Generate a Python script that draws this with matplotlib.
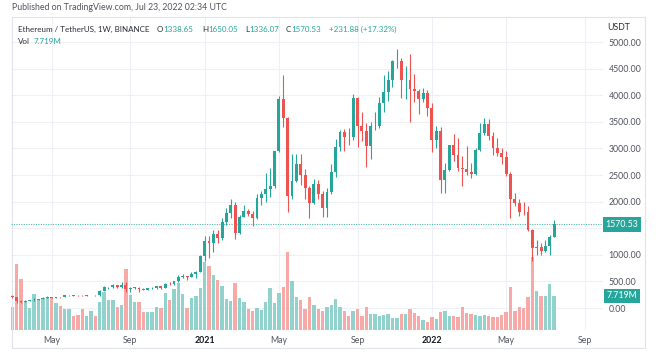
import matplotlib
matplotlib.use("Agg")
import matplotlib.pyplot as plt
import matplotlib.transforms as mtrans
from matplotlib.patches import Rectangle
import numpy as np
import pandas as pd

# ---------------- data (weekly ETH/USDT, Binance) ----------------
first_week = "2020-03-02"
opens = [218, 200, 124, 122, 131, 143, 158, 170, 196, 211, 187, 206, 201, 244, 246, 233, 228, 225, 242, 243,
         236, 318, 393, 395, 428, 395, 428, 352, 381, 384, 352, 345, 375, 379, 406, 383, 452, 448, 508, 575,
         596, 586, 640, 681,
         975, 1262, 1230, 1392, 1314, 1614, 1790, 1935, 1416, 1720, 1830, 1775, 1690, 2075, 2150, 2240, 2300,
         2950, 3920, 3580, 2100, 2380, 2700, 2500, 2250, 1970, 2330, 2140, 1875, 2190, 2560, 3020, 3310, 3220,
         3215, 3940, 3420, 3330, 3045, 3420, 3430, 3845, 4065, 4290, 4640, 4650, 4280, 4290, 4120, 4070, 3920,
         4050,
         3765, 3150, 3330, 2405, 2600, 3055, 2880, 2630, 2620, 2560, 2520, 2975, 3290, 3450, 3230, 3000, 2920,
         2830, 2520, 2050, 1970, 1810, 1800, 1460, 1125, 1140, 1075, 1165, 1338.65]
highs = [251, 208, 146, 146, 149, 190, 175, 199, 228, 215, 211, 216, 250, 253, 250, 240, 248, 245, 250, 245,
         330, 415, 400, 445, 440, 488, 488, 390, 395, 386, 372, 382, 395, 420, 412, 470, 480, 515, 622, 635,
         600, 670, 690, 1000,
         1350, 1350, 1475, 1475, 1700, 1875, 2040, 1985, 1740, 1940, 1870, 1830, 2150, 2200, 2545, 2640, 2950,
         3990, 4372, 3590, 2900, 2900, 2890, 2620, 2300, 2420, 2400, 2200, 2250, 2700, 3180, 3340, 3360, 3380,
         4030, 3975, 3690, 3470, 3500, 3680, 3970, 4375, 4460, 4665, 4870, 4700, 4550, 4780, 4400, 4120, 4130,
         4100,
         3860, 3415, 3410, 2720, 3060, 3280, 3200, 2850, 3050, 2720, 3000, 3480, 3580, 3550, 3310, 3190, 3000,
         2960, 2560, 2160, 2050, 2000, 1920, 1480, 1280, 1220, 1280, 1380, 1650.05]
lows = [195, 90, 101, 116, 125, 141, 146, 165, 190, 182, 180, 196, 198, 225, 220, 218, 220, 222, 236, 227,
        234, 316, 350, 370, 375, 372, 310, 310, 350, 310, 335, 340, 360, 360, 367, 375, 435, 440, 480, 560,
        535, 575, 560, 680,
        890, 935, 1050, 1220, 1280, 1560, 1700, 1290, 1400, 1715, 1730, 1550, 1670, 1930, 2000, 2080, 2250,
        2940, 3400, 1800, 2050, 2360, 2320, 2050, 1700, 1950, 2040, 1720, 1720, 2150, 2460, 2960, 2950, 3070,
        3150, 3030, 3130, 2660, 2800, 3340, 3380, 3690, 3890, 4150, 4510, 3950, 3930, 3500, 3880, 3640, 3880,
        3600,
        2930, 3000, 2160, 2160, 2580, 2770, 2580, 2300, 2500, 2450, 2500, 2960, 3250, 3150, 2880, 2850, 2700,
        2480, 1700, 1910, 1730, 1740, 1440, 880, 1000, 1000, 1050, 1000, 1336.07]
closes = [200, 124, 122, 131, 143, 158, 170, 196, 211, 187, 206, 201, 244, 246, 233, 228, 225, 242, 243, 236,
          318, 393, 395, 428, 395, 428, 352, 381, 384, 352, 345, 375, 379, 406, 383, 452, 448, 508, 575, 596,
          586, 640, 681, 975,
          1262, 1230, 1392, 1314, 1614, 1790, 1935, 1416, 1720, 1830, 1775, 1690, 2075, 2150, 2240, 2300, 2950,
          3920, 3580, 2100, 2380, 2700, 2500, 2250, 1970, 2330, 2140, 1875, 2190, 2560, 3020, 3310, 3220, 3215,
          3940, 3420, 3330, 3045, 3420, 3430, 3845, 4065, 4290, 4640, 4650, 4280, 4290, 4120, 4070, 3920, 4050,
          3765,
          3150, 3330, 2405, 2600, 3055, 2880, 2630, 2620, 2560, 2520, 2975, 3290, 3450, 3230, 3000, 2920, 2830,
          2520, 2050, 1970, 1810, 1800, 1460, 1125, 1140, 1075, 1165, 1338.65, 1570.53]
volumes_m = [5.22, 14.98, 11.58, 6.58, 4.99, 8.17, 7.04, 7.26, 7.26, 7.26, 6.13, 5.45, 4.77, 4.77, 3.18, 3.41,
             4.77, 3.18, 4.31, 3.18, 6.36, 8.63, 6.81, 6.81, 5.22, 5.68, 13.85, 7.95, 6.36, 6.36, 4.09, 4.09,
             4.09, 5.22, 4.99, 8.40, 6.81, 9.31, 10.67, 8.17, 4.99, 7.26, 7.72, 9.53,
             15.44, 14.53, 12.49, 11.35, 9.99, 7.04, 6.58, 10.67, 7.26, 6.36, 4.77, 4.31, 4.99, 4.54, 6.36, 9.53,
             6.13, 8.40, 9.76, 17.71, 11.12, 7.49, 6.81, 4.77, 7.49, 5.68, 4.77, 4.31, 5.22, 5.68, 7.04, 5.22,
             4.31, 3.18, 4.31, 4.77, 3.18, 5.22, 3.63, 3.63, 3.18, 3.41, 3.63, 2.72, 2.72, 3.63, 3.63, 4.77,
             3.86, 3.18, 2.27, 1.82,
             2.95, 2.50, 4.09, 4.31, 3.18, 3.18, 2.95, 5.22, 3.86, 3.63, 3.41, 3.18, 3.41, 3.18, 2.95, 2.95,
             3.41, 4.09, 9.76, 4.31, 5.22, 4.99, 7.49, 16.57, 8.85, 7.72, 7.72, 10.44, 7.719]
price_ticks = [0, 500, 1000, 1500, 2000, 2500, 3000, 3500, 4000, 4500, 5000]
price_tick_labels = ["0.00", "500.00", "1000.00", "", "2000.00", "2500.00", "3000.00", "3500.00",
                     "4000.00", "4500.00", "5000.00"]
time_tick_dates = ["2020-05-04", "2020-09-07", "2021-01-04", "2021-05-03", "2021-09-06",
                   "2022-01-03", "2022-05-02", "2022-09-05"]
time_tick_labels = ["May", "Sep", "2021", "May", "Sep", "2022", "May", "Sep"]
symbol_text = "Ethereum / TetherUS, 1W, BINANCE"
published_text = "Published on TradingView.com, Jul 23, 2022 02:34 UTC"
currency = "USDT"

# ---------------- styling ----------------
UP, DOWN = "#26a69a", "#ef5350"
VUP, VDOWN = "#92d2cc", "#f7a9a7"
GRID = "#eef0f5"
TXT = "#50535e"
DARK = "#2a2e39"
FONT = "Lato"
plt.rcParams["font.family"] = [FONT, "DejaVu Sans"]

W, H = 660, 360
def frect(x0, y0, x1, y1):
    return [x0 / W, 1 - y1 / H, (x1 - x0) / W, (y1 - y0) / H]

dates = pd.date_range(first_week, periods=len(opens), freq="7D")
o = np.array(opens); h = np.array(highs); l = np.array(lows); c = np.array(closes)
v = np.array(volumes_m)
up = c >= o

fig = plt.figure(figsize=(6.6, 3.6), dpi=100)
ax = fig.add_axes(frect(11, 17, 603, 330))
axv = ax.twinx()
ax.set_zorder(axv.get_zorder() + 1)
ax.patch.set_visible(False)

x0 = pd.Timestamp(first_week) - pd.Timedelta(days=2.1)
x1 = pd.Timestamp(first_week) + pd.Timedelta(days=946.2)
ax.set_xlim(x0, x1)
ax.set_ylim(-413, 5470)
axv.set_ylim(0, 71.06)

# grid (on the lower axes so it stays behind volume)
blend_v = mtrans.blended_transform_factory(axv.transAxes, ax.transData)
for p in price_ticks:
    axv.plot([0, 1], [p, p], transform=blend_v, color=GRID, lw=0.8, zorder=0)
for d in time_tick_dates:
    axv.axvline(pd.Timestamp(d), color=GRID, lw=0.8, zorder=0)

# volume
axv.bar(dates, v, width=5.4, color=np.where(up, VUP, VDOWN), zorder=1, linewidth=0)

# candles
cols = np.where(up, UP, DOWN)
ax.vlines(dates, l, h, colors=cols, lw=0.8, zorder=2)
body_bottom = np.minimum(o, c)
body_h = np.maximum(np.abs(c - o), 6)
ax.bar(dates, body_h, bottom=body_bottom, width=4.6, color=cols, linewidth=0, zorder=3)

# last price line
ax.axhline(c[-1], color=UP, lw=0.8, ls=(0, (1, 1.2)), alpha=0.8, zorder=1)

# axes styling
for a in (ax, axv):
    for s in a.spines.values():
        s.set_visible(False)
axv.set_yticks([])
ax.yaxis.tick_right()
ax.set_yticks(price_ticks)
ax.set_yticklabels(price_tick_labels)
ax.tick_params(axis="y", length=0, pad=4, labelsize=6.3, labelcolor=TXT)
ax.set_xticks([pd.Timestamp(d) for d in time_tick_dates])
ax.set_xticklabels(time_tick_labels)
ax.tick_params(axis="x", length=0, pad=4, labelsize=6.3, labelcolor=TXT)
for t in ax.get_xticklabels():
    if t.get_text().isdigit():
        t.set_fontweight("bold")
        t.set_color("#131722")

# price / volume labels on the scale
blend_p = mtrans.blended_transform_factory(ax.transAxes, ax.transData)
ax.text(1.0313, c[-1], f"{c[-1]:.2f}", transform=blend_p, ha="center", va="center",
        color="white", fontsize=6.3, zorder=10,
        bbox=dict(boxstyle="square,pad=0.3", fc=UP, ec="none"))
blend_vl = mtrans.blended_transform_factory(axv.transAxes, axv.transData)
axv.text(1.0313, v[-1], f"{v[-1]:.3f}M", transform=blend_vl, ha="center", va="center",
         color="white", fontsize=6.3, zorder=10,
         bbox=dict(boxstyle="square,pad=0.3", fc=UP, ec="none"))

# frame
fig.add_artist(Rectangle((12 / W, 1 - 348 / H), (645 - 12) / W, (348 - 17) / H,
                         transform=fig.transFigure, fill=False, ec="#e0e3eb", lw=0.8))

# overlay texts in pixel coords
ov = fig.add_axes([0, 0, 1, 1])
ov.set_xlim(0, W); ov.set_ylim(H, 0); ov.axis("off")
ov.set_zorder(20)
ov.text(12, 8, published_text, fontsize=6.3, color=TXT, va="center", ha="left")
ov.text(607, 27, currency, fontsize=6.3, color=DARK, va="center", ha="left")

def chain(x, y, parts, fs=5.8):
    prev = ov.text(x, y, parts[0][0], color=parts[0][1], fontsize=fs, va="bottom", ha="left")
    for s, col in parts[1:]:
        prev = ov.annotate(s, xy=(1, 0), xycoords=prev, color=col, fontsize=fs, va="bottom", ha="left")
    return prev

change = c[-1] - c[-2]
pct = change / c[-2] * 100
y2 = 33
chain(18, y2, [(symbol_text, DARK)])
chain(157, y2, [("O", DARK), (f"{o[-1]:.2f}", UP)])
chain(202, y2, [("H", DARK), (f"{h[-1]:.2f}", UP)])
chain(245, y2, [("L", DARK), (f"{l[-1]:.2f}", UP)])
chain(286, y2, [("C", DARK), (f"{c[-1]:.2f}", UP)])
chain(329, y2, [(f"+{change:.2f} (+{pct:.2f}%)", UP)])
chain(18, 45, [("Vol", DARK)])
chain(34, 45, [(f"{v[-1]:.3f}M", UP)])

fig.savefig("out.png", dpi=100, facecolor="white")
